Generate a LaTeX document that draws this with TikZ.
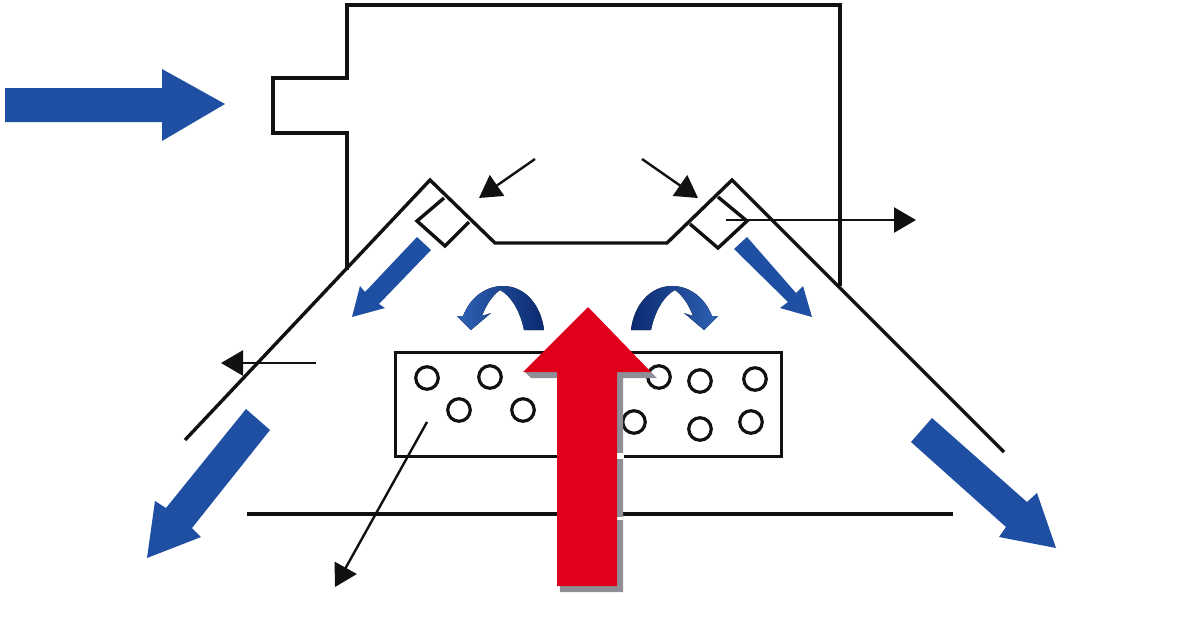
\documentclass[tikz,border=0pt]{standalone}
\usetikzlibrary{arrows.meta}
\definecolor{flowblue}{HTML}{1F4FA3}
\definecolor{flownavy}{HTML}{0B2A70}
\definecolor{flowmid}{HTML}{2F62B4}
\definecolor{hotred}{HTML}{E0001B}
\definecolor{shadowgrey}{HTML}{8F8F98}
\definecolor{ink}{HTML}{111111}
\tikzset{
  wall/.style={draw=ink,line width=3.4pt,line join=miter},
  hole/.style={circle,draw=ink,line width=3.2pt,fill=white,minimum size=22.5pt,inner sep=0pt},
  bluearrow/.style={fill=flowblue,draw=none},
  thinflow/.style={draw=ink,line width=2.4pt,-{Triangle[length=22pt,width=25pt]}},
}
\begin{document}
\begin{tikzpicture}[x=1pt,y=-1pt]
\useasboundingbox (0,0) rectangle (1200,641);
% housing
\draw[wall] (347,270) -- (347,133) -- (273,133) -- (273,78) -- (347,78) -- (347,5) -- (840,5) -- (840,286);
% hood
\draw[wall] (185,440) -- (430,180) -- (495,243) -- (667,243) -- (732,180) -- (1004,452);
% small squares
\draw[wall] (444,198) -- (417,221) -- (445,246) -- (469,222);
\draw[wall] (718,197) -- (747,221) -- (718,248) -- (690,224);
% tube bank
\node[draw=ink,line width=3.4pt,minimum width=386pt,minimum height=104pt,inner sep=0pt,anchor=north west] (bank) at (393.5,350.5) {};
\foreach \n/\x/\y in {a/427/378,b/490/377,c/459/410,d/523/410,e/659/377,f/700/381,g/755/379,h/634/422,i/700/429,j/751/422}
  \node[hole] (\n) at (\x,\y) {};
% floor line
\coordinate (fl) at (247,514);
\coordinate (fr) at (953,514);
\draw[ink,line width=3.4pt] (fl) -- (fr);
% thin black arrows
\coordinate (a1s) at (535,159); \coordinate (a1e) at (479,198);
\coordinate (a2s) at (642,159); \coordinate (a2e) at (698,198);
\coordinate (a3s) at (726,220); \coordinate (a3e) at (916,220);
\coordinate (a4s) at (316,363); \coordinate (a4e) at (221,363);
\coordinate (a5s) at (427,422); \coordinate (a5e) at (335,587);
\draw[thinflow] (a1s) -- (a1e);
\draw[thinflow] (a2s) -- (a2e);
\draw[thinflow] (a3s) -- (a3e);
\draw[thinflow] (a4s) -- (a4e);
\draw[thinflow] (a5s) -- (a5e);
% blue arrows
\fill[bluearrow] (5,88) -- (162,88) -- (162,69) -- (225,104) -- (162,141) -- (162,122) -- (5,122) -- cycle;
\fill[bluearrow] (417,237) -- (431,250) -- (379,304) -- (385,308) -- (352,317) -- (360,286) -- (365,292) -- cycle;
\fill[bluearrow] (747,237) -- (734,249) -- (788,302) -- (780,308) -- (812,317) -- (803,286) -- (796,293) -- cycle;
\fill[bluearrow] (246,409) -- (270,430) -- (192,528) -- (201,537) -- (147,558) -- (155,501) -- (166,508) -- cycle;
\fill[bluearrow] (932,418) -- (911,442) -- (1006,527) -- (999,537) -- (1056,548) -- (1037,493) -- (1027,502) -- cycle;
% curved arrows
\fill[left color=flowmid,right color=flownavy]
  (544,330) .. controls (541,305) and (525,286) .. (503,286)
  .. controls (485,286) and (470,298) .. (463,316) -- (457,316) -- (471,330) -- (491,313) -- (482,316)
  .. controls (486,305) and (492,296) .. (500,290)
  .. controls (510,295) and (520,310) .. (524,330) -- cycle;
\fill[left color=flownavy,right color=flowmid]
  (631,330) .. controls (634,305) and (650,286) .. (672,286)
  .. controls (690,286) and (705,298) .. (712,316) -- (718,316) -- (704,330) -- (684,313) -- (693,316)
  .. controls (689,305) and (683,296) .. (675,290)
  .. controls (665,295) and (655,310) .. (651,330) -- cycle;
% red arrow shadow
\fill[shadowgrey] (531,378) -- (560,378) -- (560,592) -- (623,592) -- (623,378) -- (657,378) -- (651,372) -- (525,372) -- cycle;
\fill[white] (617,453) rectangle (624,459);
\fill[white] (617,517) rectangle (624,520);
% red arrow
\fill[hotred] (588,307) -- (651,372) -- (617,372) -- (617,586) -- (557,586) -- (557,372) -- (523,372) -- cycle;
\end{tikzpicture}
\end{document}
